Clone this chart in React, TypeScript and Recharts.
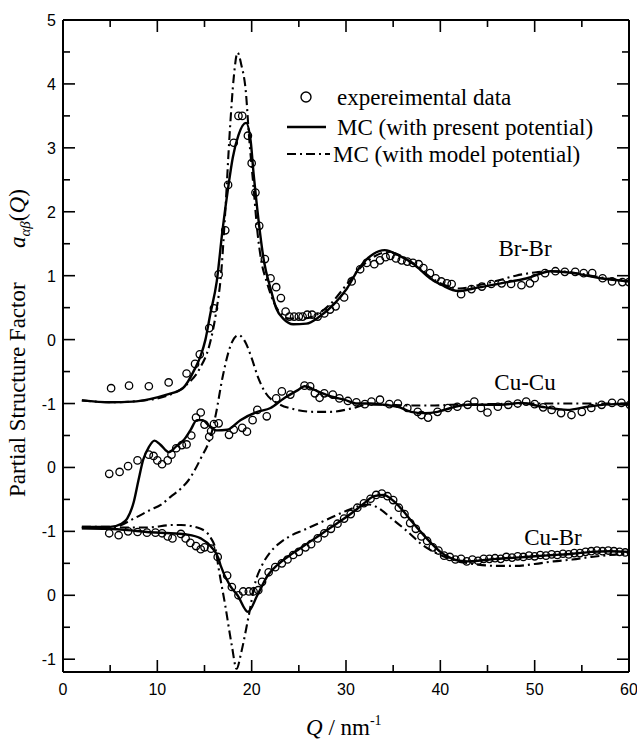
import { ComposedChart, Line, Scatter, XAxis, YAxis, ReferenceLine } from 'recharts';

// vertical shift applied to each partial so the three curves stack
const OFFSET_BRBR = 0;
const OFFSET_CUCU = -2;
const OFFSET_CUBR = -4;

const X_TICKS = [0, 5, 10, 15, 20, 25, 30, 35, 40, 45, 50, 55, 60];
const Y_TICKS = [-5, -4.5, -4, -3.5, -3, -2.5, -2, -1.5, -1, -0.5, 0, 0.5, 1, 1.5, 2, 2.5, 3, 3.5, 4, 4.5, 5];
const Y_MAJOR = [5, 4, 3, 2, 1, 0, -1, -2, -3, -4, -5];
const Y_TICK_LABELS = ['5', '4', '3', '2', '1', '0', '-1', '0', '-1', '0', '-1'];

// [Q, a(Q)]
const brBrExp = [
  [5.1, -0.76], [7.0, -0.72], [9.1, -0.73], [11.2, -0.67], [13.1, -0.53], [14.0, -0.38], [14.5, -0.23],
  [15.5, 0.18], [16.0, 0.49], [16.5, 1.02], [17.2, 1.71], [17.5, 2.42], [18.1, 3.08], [18.6, 3.5], [19.0, 3.5],
  [19.6, 3.19], [20.0, 2.76], [20.4, 2.3], [20.8, 1.78], [21.4, 1.26], [22.0, 0.96], [22.6, 0.82], [23.1, 0.65],
  [23.6, 0.44], [24.0, 0.36], [24.5, 0.36], [25.0, 0.36], [25.4, 0.36], [25.9, 0.39], [26.4, 0.39], [27.0, 0.36],
  [27.7, 0.41], [28.3, 0.47], [28.9, 0.52], [29.8, 0.66], [30.6, 0.91], [31.5, 1.1], [32.2, 1.2], [33.0, 1.18],
  [33.6, 1.24], [34.2, 1.29], [34.7, 1.31], [35.3, 1.27], [35.9, 1.24], [36.5, 1.22], [37.1, 1.2], [37.7, 1.18],
  [38.2, 1.12], [38.9, 1.04], [39.5, 0.96], [40.1, 0.91], [40.7, 0.88], [41.2, 0.87], [42.2, 0.71], [43.3, 0.79],
  [44.4, 0.83], [45.4, 0.87], [46.5, 0.88], [47.5, 0.87], [48.6, 0.85], [49.5, 0.88], [50.0, 0.96], [51.1, 1.04],
  [52.2, 1.07], [53.2, 1.06], [54.3, 1.06], [55.2, 1.04], [56.1, 1.04], [57.2, 0.96], [58.2, 0.91], [59.3, 0.9],
  [60.0, 0.9],
];
const brBrMC = [
  [2, -0.95], [5, -0.98], [7.4, -0.97], [9.2, -0.93], [11, -0.86], [12.7, -0.76], [14.0, -0.45], [14.6, -0.25],
  [15.1, 0.0], [15.6, 0.39], [16.3, 0.91], [16.9, 1.7], [17.5, 2.37], [18.0, 2.85], [18.6, 3.2], [19.4, 3.39],
  [19.9, 3.1], [20.2, 2.6], [20.5, 2.17], [21.3, 1.23], [22.0, 0.8], [22.6, 0.49], [23.4, 0.32], [24.4, 0.24],
  [25.8, 0.25], [27.2, 0.36], [28.7, 0.55], [30.1, 0.8], [31.4, 1.12], [32.9, 1.34], [34.1, 1.4], [35.7, 1.31],
  [37.2, 1.18], [38.9, 0.96], [40.2, 0.85], [41.9, 0.76], [43.5, 0.8], [46.4, 0.88], [49.2, 0.96], [51.7, 1.07],
  [54.1, 1.04], [57.0, 0.96], [60, 0.91],
];
const brBrModel = [
  [2, -0.95], [5, -0.98], [8, -0.96], [11, -0.88], [13, -0.72], [14.5, -0.45], [15.5, -0.1], [16.2, 0.4],
  [16.8, 1.1], [17.2, 2.0], [17.7, 3.3], [18.1, 4.1], [18.5, 4.49], [18.9, 4.3], [19.4, 3.85], [19.7, 3.22],
  [20.2, 2.38], [20.6, 1.7], [21.0, 1.25], [21.6, 0.9], [22.3, 0.6], [23.0, 0.42], [24, 0.33], [25.5, 0.33],
  [27, 0.4], [28.5, 0.58], [30, 0.85], [31.5, 1.12], [33, 1.3], [34.5, 1.37], [36, 1.3], [37.5, 1.15], [39, 0.97],
  [40.5, 0.85], [42, 0.8], [44, 0.85], [46, 0.92], [48, 1.0], [50, 1.05], [52, 1.07], [54, 1.05], [56, 1.0],
  [58, 0.95], [60, 0.92],
];

const cuCuExp = [
  [4.9, -0.1], [6.0, -0.07], [6.9, 0.02], [7.9, 0.11], [9.1, 0.2], [9.6, 0.18], [10.0, 0.11], [10.5, 0.05],
  [11.1, 0.11], [11.5, 0.2], [12.0, 0.3], [12.6, 0.35], [13.1, 0.36], [13.6, 0.5], [14.1, 0.78], [14.6, 0.86],
  [15.0, 0.67], [15.5, 0.48], [15.7, 0.57], [16.0, 0.68], [16.5, 0.69], [17.6, 0.51], [18.1, 0.59], [19.0, 0.62],
  [19.5, 0.56], [20.1, 0.74], [20.6, 0.9], [21.6, 0.8], [22.6, 1.08], [23.2, 1.19], [24.1, 1.14], [25.6, 1.28],
  [26.2, 1.27], [26.7, 1.16], [27.2, 1.09], [27.7, 1.16], [28.6, 1.14], [29.3, 1.08], [30.2, 1.04], [31.1, 1.02],
  [32.0, 0.99], [32.7, 1.03], [33.6, 1.06], [34.6, 0.99], [35.5, 1.0], [36.5, 0.93], [37.6, 0.87], [38.0, 0.82],
  [38.7, 0.78], [39.7, 0.87], [40.8, 0.93], [41.8, 0.95], [42.9, 0.98], [43.6, 1.03], [44.3, 0.93], [45.0, 0.86],
  [46.1, 0.95], [47.2, 0.98], [48.2, 1.0], [49.1, 1.03], [50.0, 0.99], [50.9, 0.94], [51.8, 0.9], [52.8, 0.85],
  [53.9, 0.82], [55.0, 0.87], [56.0, 0.93], [57.1, 0.98], [58.2, 1.01], [59.2, 1.01], [60.1, 0.98],
];
const cuCuMC = [
  [2, -0.93], [5, -0.93], [6.2, -0.88], [6.8, -0.8], [7.5, -0.54], [8.0, -0.2], [8.5, 0.12], [9.1, 0.32],
  [9.7, 0.42], [10.3, 0.36], [11.2, 0.24], [12.0, 0.33], [12.8, 0.43], [13.5, 0.58], [14.2, 0.74], [14.8, 0.74],
  [15.5, 0.65], [16.3, 0.58], [17.4, 0.59], [18.8, 0.74], [20.6, 0.87], [22.0, 0.93], [23.4, 1.08], [24.9, 1.21],
  [25.6, 1.27], [27.0, 1.19], [28.4, 1.11], [29.8, 1.06], [31.2, 1.0], [32.6, 1.0], [34.0, 0.98], [35.5, 0.95],
  [36.9, 0.87], [38.3, 0.85], [39.7, 0.87], [41.1, 0.93], [42.9, 0.98], [46.4, 0.98], [48.6, 1.01], [50.7, 0.95],
  [53.5, 0.9], [55.6, 0.95], [58.5, 0.99], [60, 0.98],
];
const cuCuModel = [
  [2, -0.93], [5.4, -0.93], [7.5, -0.8], [9.3, -0.66], [10.4, -0.58], [11.4, -0.46], [12.5, -0.33], [13.2, -0.22],
  [14.6, 0.14], [15.7, 0.51], [16.2, 0.83], [16.9, 1.4], [17.8, 1.92], [18.6, 2.07], [19.4, 1.94], [20.0, 1.71],
  [20.7, 1.4], [21.5, 1.16], [22.8, 1.0], [24.5, 0.91], [26.6, 0.87], [28.4, 0.87], [30.5, 0.92], [32.3, 0.98],
  [34.0, 0.98], [36.6, 0.97], [39.4, 0.97], [41.2, 0.98], [45, 0.99], [50, 1.0], [55, 1.0], [60, 1.0],
];

const cuBrExp = [
  [4.9, 0.97], [5.9, 0.94], [6.9, 1.0], [7.9, 0.99], [8.9, 0.98], [9.8, 0.98], [10.5, 0.97], [11.1, 0.92],
  [11.6, 0.89], [12.5, 0.96], [13.0, 0.89], [13.5, 0.82], [14.1, 0.77], [14.6, 0.72], [15.0, 0.75], [15.7, 0.73],
  [16.4, 0.6], [17.4, 0.31], [17.9, 0.13], [18.6, 0.0], [19.1, 0.06], [19.7, 0.06], [20.2, 0.06], [20.7, 0.08],
  [21.1, 0.21], [21.8, 0.36], [22.5, 0.44], [23.2, 0.5], [23.8, 0.56], [24.4, 0.63], [25.0, 0.68], [25.7, 0.75],
  [26.3, 0.8], [27.0, 0.89], [27.7, 0.97], [28.4, 1.04], [29.1, 1.12], [29.8, 1.2], [30.5, 1.27], [31.2, 1.37],
  [31.9, 1.44], [32.6, 1.51], [33.2, 1.57], [33.8, 1.59], [34.4, 1.55], [35.0, 1.49], [35.6, 1.37], [36.2, 1.27],
  [36.8, 1.13], [37.4, 1.04], [38.0, 0.92], [38.6, 0.85], [39.2, 0.75], [39.8, 0.7], [40.4, 0.62], [41.0, 0.6],
  [41.6, 0.56], [42.2, 0.57], [42.8, 0.53], [43.4, 0.56], [44.0, 0.54], [44.6, 0.57], [45.2, 0.57], [45.8, 0.58],
  [46.4, 0.57], [47.0, 0.6], [47.6, 0.59], [48.2, 0.61], [48.8, 0.6], [49.4, 0.62], [50.0, 0.61], [50.6, 0.63],
  [51.2, 0.62], [51.8, 0.64], [52.4, 0.63], [53.0, 0.65], [53.6, 0.64], [54.2, 0.66], [54.8, 0.66], [55.4, 0.68],
  [56.0, 0.69], [56.6, 0.7], [57.2, 0.69], [57.8, 0.7], [58.4, 0.69], [59.0, 0.68], [59.6, 0.67], [60.2, 0.67],
];
const cuBrMC = [
  [2, 1.05], [4.7, 1.04], [6.8, 1.02], [8.9, 0.99], [11.4, 0.97], [13.2, 0.95], [14.6, 0.89], [15.7, 0.76],
  [16.5, 0.57], [16.7, 0.47], [17.8, 0.13], [18.5, 0.0], [19.6, -0.26], [20.6, 0.0], [21.7, 0.31], [22.7, 0.47],
  [24, 0.62], [25, 0.72], [26, 0.82], [27, 0.92], [28, 1.02], [29, 1.12], [30, 1.22], [31, 1.33], [32, 1.45],
  [33, 1.55], [34, 1.57], [35, 1.48], [36, 1.33], [37, 1.15], [38, 0.98], [39, 0.82], [40, 0.68], [41, 0.59],
  [42, 0.54], [43, 0.53], [44, 0.54], [46, 0.57], [48, 0.59], [50, 0.61], [52, 0.63], [54, 0.65], [56, 0.68],
  [58, 0.69], [60, 0.68],
];
const cuBrModel = [
  [2, 1.05], [5, 1.06], [8.9, 1.06], [11.7, 1.1], [12.5, 1.1], [14.6, 1.04], [15.7, 0.89], [16.2, 0.7],
  [16.5, 0.42], [17.2, -0.16], [17.9, -0.79], [18.4, -1.15], [18.9, -0.89], [19.7, -0.31], [20.4, 0.21],
  [21.1, 0.47], [22, 0.68], [23, 0.82], [24, 0.92], [25.5, 1.02], [27, 1.12], [28.5, 1.22], [30, 1.32],
  [31.5, 1.4], [32.5, 1.42], [33.5, 1.36], [35, 1.18], [36.5, 1.0], [38, 0.8], [40, 0.63], [42, 0.53],
  [44, 0.48], [46, 0.46], [48, 0.46], [50, 0.49], [52, 0.53], [54, 0.56], [56, 0.6], [58, 0.63], [60, 0.65],
];

const W = 637;
const H = 740;
const PLOT_LEFT = 63;
const PLOT_RIGHT = 629;
const PLOT_TOP = 20;
const PLOT_BOTTOM = 672;
const X_DOMAIN = [0, 60];
const Y_DOMAIN = [-5.2, 5];
// inward tick lengths in data units (12 px major, 7 px minor at this plot size)
const X_MAJOR_LEN = (12 / (PLOT_BOTTOM - PLOT_TOP)) * (Y_DOMAIN[1] - Y_DOMAIN[0]);
const X_MINOR_LEN = (7 / (PLOT_BOTTOM - PLOT_TOP)) * (Y_DOMAIN[1] - Y_DOMAIN[0]);
const Y_MAJOR_LEN = (12 / (PLOT_RIGHT - PLOT_LEFT)) * (X_DOMAIN[1] - X_DOMAIN[0]);
const Y_MINOR_LEN = (7 / (PLOT_RIGHT - PLOT_LEFT)) * (X_DOMAIN[1] - X_DOMAIN[0]);

const SANS = '"Liberation Sans", Arial, sans-serif';
const SERIF = '"Liberation Serif", "Times New Roman", serif';

const shift = (pts: number[][], off: number) => pts.map(([q, a]) => ({ q, y: a + off }));

const XTick = (props: any) => {
  const { x, payload } = props;
  const v = payload.value;
  if (v % 10 !== 0) return <g />;
  return (
    <text x={x} y={PLOT_BOTTOM + 23} textAnchor="middle" fontFamily={SANS} fontSize={16} fill="#000">
      {v}
    </text>
  );
};

const YTick = (props: any) => {
  const { y, payload } = props;
  const idx = Y_MAJOR.indexOf(payload.value);
  if (idx < 0) return <g />;
  return (
    <text x={PLOT_LEFT - 7} y={y + 6} textAnchor="end" fontFamily={SANS} fontSize={16} fill="#000">
      {Y_TICK_LABELS[idx]}
    </text>
  );
};

const OpenCircle = (props: any) => (
  <circle cx={props.cx} cy={props.cy} r={3.7} fill="none" stroke="#000" strokeWidth={1.3} />
);

export default function App() {
  const solid = { stroke: '#000', strokeWidth: 2.4 };
  const dashdot = { stroke: '#000', strokeWidth: 2.1, strokeDasharray: '9 4 2 4' };
  const tickStyle = { stroke: '#000', strokeWidth: 1.6, ifOverflow: 'visible' as const };
  const [x0, x1] = X_DOMAIN;
  const [y0, y1] = Y_DOMAIN;
  return (
    <div style={{ position: 'absolute', left: 0, top: 0, width: W, height: H, background: '#fff' }}>
      <ComposedChart width={W} height={H} margin={{ top: 20, right: 8, bottom: 38, left: 23 }}>
        <XAxis
          type="number"
          dataKey="q"
          domain={X_DOMAIN}
          ticks={X_TICKS}
          interval={0}
          height={30}
          axisLine={false}
          tickLine={false}
          tick={<XTick />}
          allowDataOverflow
        />
        <YAxis
          type="number"
          dataKey="y"
          domain={Y_DOMAIN}
          ticks={Y_TICKS}
          interval={0}
          width={40}
          axisLine={false}
          tickLine={false}
          tick={<YTick />}
          allowDataOverflow
        />

        {/* inward ticks on all four sides */}
        {X_TICKS.map((v) => {
          const len = v % 10 === 0 ? X_MAJOR_LEN : X_MINOR_LEN;
          return [
            <ReferenceLine key={`xb${v}`} segment={[{ x: v, y: y0 }, { x: v, y: y0 + len }]} {...tickStyle} />,
            <ReferenceLine key={`xt${v}`} segment={[{ x: v, y: y1 }, { x: v, y: y1 - len }]} {...tickStyle} />,
          ];
        })}
        {Y_TICKS.map((v) => {
          const len = Number.isInteger(v) ? Y_MAJOR_LEN : Y_MINOR_LEN;
          return [
            <ReferenceLine key={`yl${v}`} segment={[{ x: x0, y: v }, { x: x0 + len, y: v }]} {...tickStyle} />,
            <ReferenceLine key={`yr${v}`} segment={[{ x: x1, y: v }, { x: x1 - len, y: v }]} {...tickStyle} />,
          ];
        })}

        <Line data={shift(brBrModel, OFFSET_BRBR)} dataKey="y" type="monotone" dot={false} {...dashdot} isAnimationActive={false} />
        <Line data={shift(cuCuModel, OFFSET_CUCU)} dataKey="y" type="monotone" dot={false} {...dashdot} isAnimationActive={false} />
        <Line data={shift(cuBrModel, OFFSET_CUBR)} dataKey="y" type="monotone" dot={false} {...dashdot} isAnimationActive={false} />

        <Line data={shift(brBrMC, OFFSET_BRBR)} dataKey="y" type="monotone" dot={false} {...solid} isAnimationActive={false} />
        <Line data={shift(cuCuMC, OFFSET_CUCU)} dataKey="y" type="monotone" dot={false} {...solid} isAnimationActive={false} />
        <Line data={shift(cuBrMC, OFFSET_CUBR)} dataKey="y" type="monotone" dot={false} {...solid} isAnimationActive={false} />

        <Scatter data={shift(brBrExp, OFFSET_BRBR)} dataKey="y" shape={<OpenCircle />} isAnimationActive={false} />
        <Scatter data={shift(cuCuExp, OFFSET_CUCU)} dataKey="y" shape={<OpenCircle />} isAnimationActive={false} />
        <Scatter data={shift(cuBrExp, OFFSET_CUBR)} dataKey="y" shape={<OpenCircle />} isAnimationActive={false} />
      </ComposedChart>

      <svg width={W} height={H} style={{ position: 'absolute', left: 0, top: 0, pointerEvents: 'none' }}>
        {/* plot frame */}
        <line x1={PLOT_LEFT} y1={PLOT_TOP} x2={PLOT_RIGHT} y2={PLOT_TOP} stroke="#000" strokeWidth={2} />
        <line x1={PLOT_LEFT} y1={PLOT_BOTTOM} x2={PLOT_RIGHT} y2={PLOT_BOTTOM} stroke="#000" strokeWidth={2} />
        <line x1={PLOT_LEFT} y1={PLOT_TOP} x2={PLOT_LEFT} y2={PLOT_BOTTOM} stroke="#000" strokeWidth={2} />
        <line x1={PLOT_RIGHT} y1={PLOT_TOP} x2={PLOT_RIGHT} y2={PLOT_BOTTOM} stroke="#000" strokeWidth={2} />

        {/* legend */}
        <circle cx={306} cy={97} r={5} fill="none" stroke="#000" strokeWidth={1.4} />
        <text x={337} y={105} fontFamily={SERIF} fontSize={23} fill="#000">expereimental data</text>
        <line x1={287} y1={127} x2={326} y2={127} stroke="#000" strokeWidth={2.4} />
        <text x={337} y={135} fontFamily={SERIF} fontSize={23} fill="#000">MC (with present potential)</text>
        <line x1={287} y1={154} x2={330} y2={154} stroke="#000" strokeWidth={2.1} strokeDasharray="9 4 2 4" />
        <text x={333} y={162} fontFamily={SERIF} fontSize={23} fill="#000">MC (with model potential)</text>

        {/* curve names */}
        <text x={525} y={256} textAnchor="middle" fontFamily={SERIF} fontSize={23} fill="#000">Br-Br</text>
        <text x={525} y={390} textAnchor="middle" fontFamily={SERIF} fontSize={23} fill="#000">Cu-Cu</text>
        <text x={553} y={545} textAnchor="middle" fontFamily={SERIF} fontSize={23} fill="#000">Cu-Br</text>

        {/* axis titles */}
        <text transform="translate(25,497) rotate(-90)" fontFamily={SERIF} fontSize={23} fill="#000">
          Partial Structure Factor
        </text>
        <text transform="translate(25,248) rotate(-90)" fontFamily={SERIF} fontSize={23} fill="#000">
          <tspan fontStyle="italic">a</tspan>
          <tspan fontStyle="italic" fontSize={15} dy={5}>αβ</tspan>
          <tspan dy={-5}>(</tspan>
          <tspan fontStyle="italic">Q</tspan>
          <tspan>)</tspan>
        </text>
        <text x={306} y={735} fontFamily={SERIF} fontSize={23} fill="#000">
          <tspan fontStyle="italic">Q</tspan>
          <tspan> / nm</tspan>
          <tspan fontSize={14} dy={-10}>-1</tspan>
        </text>
      </svg>
    </div>
  );
}
